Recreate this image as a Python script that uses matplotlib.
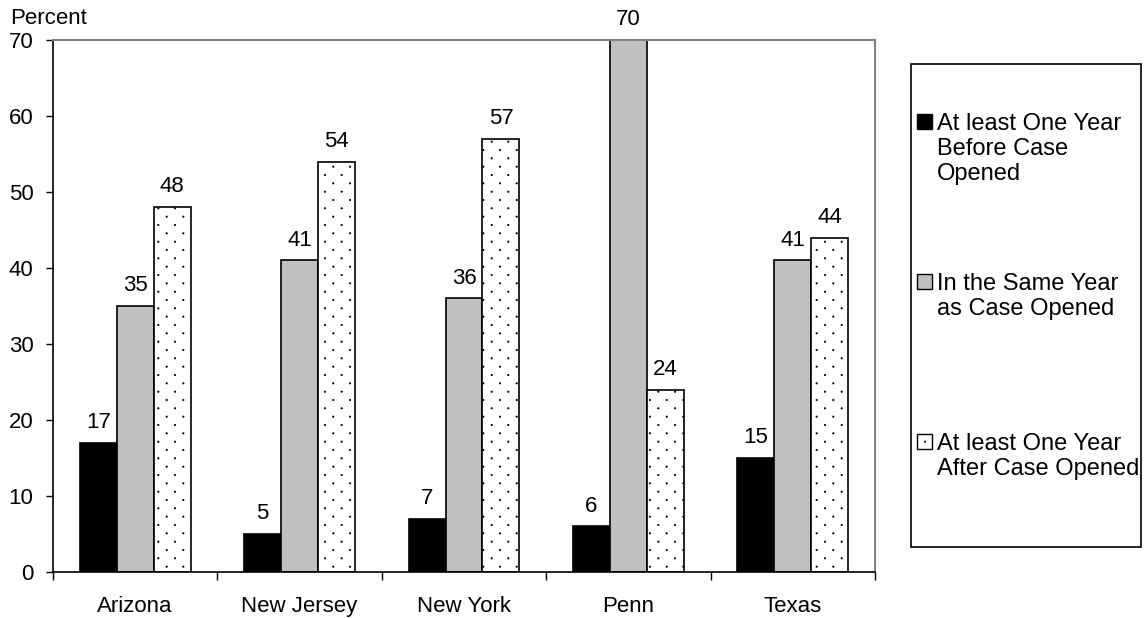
import matplotlib
matplotlib.use("Agg")
import matplotlib.pyplot as plt
from matplotlib import hatch as mhatch
from matplotlib.path import Path
from matplotlib.patches import Rectangle
import numpy as np

# Data
states = ["Arizona", "New Jersey", "New York", "Penn", "Texas"]
series_labels = [
    "At least One Year\nBefore Case\nOpened",
    "In the Same Year\nas Case Opened",
    "At least One Year\nAfter Case Opened",
]
before_case = [17, 5, 7, 6, 15]
same_year = [35, 41, 36, 70, 41]
after_case = [48, 54, 57, 24, 44]
y_ticks = [0, 10, 20, 30, 40, 50, 60, 70]


class SparseDots(mhatch.HatchPatternBase):
    """Staggered dot fill: rows twice as close as the dots within a row."""
    radius = 0.007

    def __init__(self, hatch, density):
        self.n = int(hatch.count(".") * density)
        circle = Path.unit_circle()
        self.shape_vertices = circle.vertices
        self.shape_codes = circle.codes
        if self.n == 0:
            self.num_vertices = 0
        else:
            n_shapes = (self.n + 1) * (self.n + 1) + self.n * self.n
            self.num_vertices = n_shapes * len(self.shape_vertices)

    def set_vertices_and_codes(self, vertices, codes):
        step = 1.0 / self.n
        verts = self.shape_vertices * self.radius
        vparts, cparts = [], []
        for row in range(2 * self.n + 1):
            if row % 2 == 0:
                cols = np.linspace(0, 1, self.n + 1)
            else:
                cols = np.linspace(step / 2, 1 - step / 2, self.n)
            for c in cols:
                vparts.append(verts + [c, row * step / 2])
                cparts.append(self.shape_codes)
        np.concatenate(vparts, out=vertices)
        np.concatenate(cparts, out=codes)


mhatch._hatch_types = [SparseDots if t is mhatch.SmallFilledCircles else t
                       for t in mhatch._hatch_types]

plt.rcParams["font.family"] = ["Liberation Sans", "DejaVu Sans"]
plt.rcParams["hatch.color"] = "#3a3a3a"
plt.rcParams["hatch.linewidth"] = 0.5

FS = 16
LFS = 17
W, H = 1144, 618
fig = plt.figure(figsize=(W / 100, H / 100), dpi=100)
ax = fig.add_axes([53 / W, 1 - 572 / H, (875 - 53) / W, (572 - 40) / H])

series = [before_case, same_year, after_case]
styles = [
    dict(facecolor="black", edgecolor="black"),
    dict(facecolor="#c0c0c0", edgecolor="black"),
    dict(facecolor="white", edgecolor="black", hatch="."),
]
bw = 0.225
centers = np.arange(len(states)) + 0.5
for k, (vals, st) in enumerate(zip(series, styles)):
    xs = centers + (k - 1) * bw
    ax.bar(xs, vals, width=bw, linewidth=1.2, **st)
    for x, v in zip(xs, vals):
        ax.annotate(f"{v}", (x, v), xytext=(0, 7), textcoords="offset points",
                    ha="center", va="bottom", fontsize=FS)

ax.set_xlim(0, len(states))
ax.set_ylim(0, 70)
ax.set_yticks(y_ticks)
ax.tick_params(axis="y", direction="out", length=5, width=1, pad=9, labelsize=FS)
ax.set_xticks(centers)
ax.set_xticklabels(states)
ax.tick_params(axis="x", which="major", length=0, pad=17, labelsize=FS)
ax.set_xticks(np.arange(len(states) + 1), minor=True)
ax.tick_params(axis="x", which="minor", direction="out", length=6, width=1)

for side in ("left", "bottom"):
    ax.spines[side].set_color("black")
    ax.spines[side].set_linewidth(1.2)
for side in ("top", "right"):
    ax.spines[side].set_color("#808080")
    ax.spines[side].set_linewidth(1.5)

fig.text(10 / W, 1 - 18 / H, "Percent", fontsize=FS, ha="left", va="center")

# Legend box with entries laid out down the right side
lx0, ly0, lx1, ly1 = 911, 64, 1141, 547
fig.patches.append(Rectangle((lx0 / W, 1 - ly1 / H), (lx1 - lx0) / W, (ly1 - ly0) / H,
                             transform=fig.transFigure, facecolor="white",
                             edgecolor="black", linewidth=1.2))
entry_y = [122, 282, 442]
for lab, st, ey in zip(series_labels, styles, entry_y):
    fig.patches.append(Rectangle((917 / W, 1 - (ey + 7) / H), 15 / W, 15 / H,
                                 transform=fig.transFigure, linewidth=1.0, **st))
    fig.text(937 / W, 1 - (ey - 9) / H, lab, fontsize=LFS, ha="left", va="top",
             linespacing=1.17)

fig.savefig("out.png", dpi=100)
